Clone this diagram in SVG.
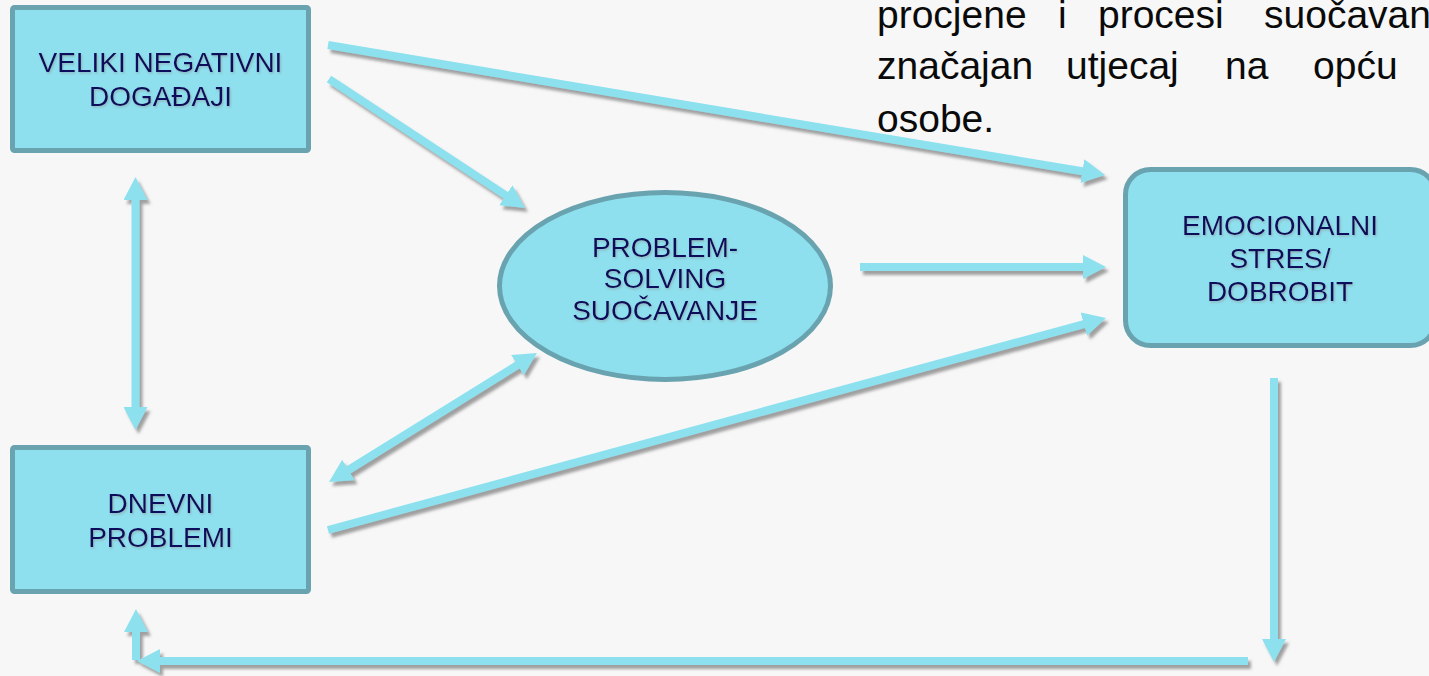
<svg xmlns="http://www.w3.org/2000/svg" width="1429" height="676" viewBox="0 0 1429 676">
<style>
.box{fill:#8ee0ef;stroke:#6aa3b0;stroke-width:5}
.lbl{font-family:"Liberation Sans",Arial,sans-serif;font-size:28px;fill:#0b0b5c;text-anchor:middle}
.para{font-family:"Liberation Sans",Arial,sans-serif;font-size:39px;fill:#0a0a0a}
.arr{stroke:#8de1ef;stroke-width:8;fill:none}
</style>
<defs>
<filter id="sh" x="-10%" y="-10%" width="120%" height="130%">
<feDropShadow dx="3" dy="4" stdDeviation="1.8" flood-color="#666" flood-opacity="0.6"/>
</filter>
<filter id="tsh" x="-10%" y="-20%" width="120%" height="140%">
<feDropShadow dx="1" dy="1.5" stdDeviation="1" flood-color="#888" flood-opacity="0.5"/>
</filter>
<marker id="ah" viewBox="0 0 23 24" refX="3" refY="12" markerWidth="23" markerHeight="24" markerUnits="userSpaceOnUse" orient="auto-start-reverse">
<path d="M0,0 L23,12 L0,24 z" fill="#8de1ef"/>
</marker>
</defs>
<rect width="1429" height="676" fill="#f7f7f7"/>

<g id="paragraph" class="para">
<text y="28"><tspan x="877">procjene</tspan><tspan x="1058">i</tspan><tspan x="1098">procesi</tspan><tspan x="1264">suočavanja</tspan></text>
<text y="79"><tspan x="877">značajan</tspan><tspan x="1066">utjecaj</tspan><tspan x="1225">na</tspan><tspan x="1313">opću</tspan></text>
<text y="132" x="877">osobe.</text>
</g>

<g id="connectors" filter="url(#sh)">
<line class="arr" x1="328" y1="45" x2="1085.3" y2="171.7" marker-end="url(#ah)"/>
<line class="arr" x1="329" y1="79" x2="508.3" y2="197" marker-end="url(#ah)"/>
<line class="arr" x1="860" y1="267" x2="1086" y2="267" marker-end="url(#ah)"/>
<line class="arr" x1="328" y1="530" x2="1086.7" y2="323.3" marker-end="url(#ah)"/>
<line class="arr" x1="346" y1="471.5" x2="520" y2="363.5" marker-start="url(#ah)" marker-end="url(#ah)"/>
<line class="arr" x1="135.5" y1="197" x2="135.5" y2="410" marker-start="url(#ah)" marker-end="url(#ah)"/>
<line class="arr" x1="1274" y1="378" x2="1274" y2="642" marker-end="url(#ah)"/>
<line class="arr" x1="1248" y1="661" x2="157" y2="661" marker-end="url(#ah)"/>
<line class="arr" x1="136" y1="660" x2="136" y2="629" marker-end="url(#ah)"/>
</g>

<g id="veliki">
<rect class="box" x="12.5" y="7.5" width="296" height="143" rx="2"/>
<text class="lbl" filter="url(#tsh)" x="160.5" y="72">VELIKI NEGATIVNI</text>
<text class="lbl" filter="url(#tsh)" x="160.5" y="106">DOGAĐAJI</text>
</g>

<g id="dnevni">
<rect class="box" x="12.5" y="447.5" width="296" height="144" rx="2"/>
<text class="lbl" filter="url(#tsh)" x="160.5" y="513">DNEVNI</text>
<text class="lbl" filter="url(#tsh)" x="160.5" y="547">PROBLEMI</text>
</g>

<g id="problem-solving">
<ellipse class="box" cx="665" cy="286" rx="165.5" ry="93.5"/>
<text class="lbl" filter="url(#tsh)" x="665" y="257">PROBLEM-</text>
<text class="lbl" filter="url(#tsh)" x="665" y="288">SOLVING</text>
<text class="lbl" filter="url(#tsh)" x="665" y="320">SUOČAVANJE</text>
</g>

<g id="emocionalni">
<rect class="box" x="1125.5" y="169.5" width="310" height="176" rx="25"/>
<text class="lbl" filter="url(#tsh)" x="1280" y="235">EMOCIONALNI</text>
<text class="lbl" filter="url(#tsh)" x="1280" y="268">STRES/</text>
<text class="lbl" filter="url(#tsh)" x="1280" y="301">DOBROBIT</text>
</g>
</svg>
